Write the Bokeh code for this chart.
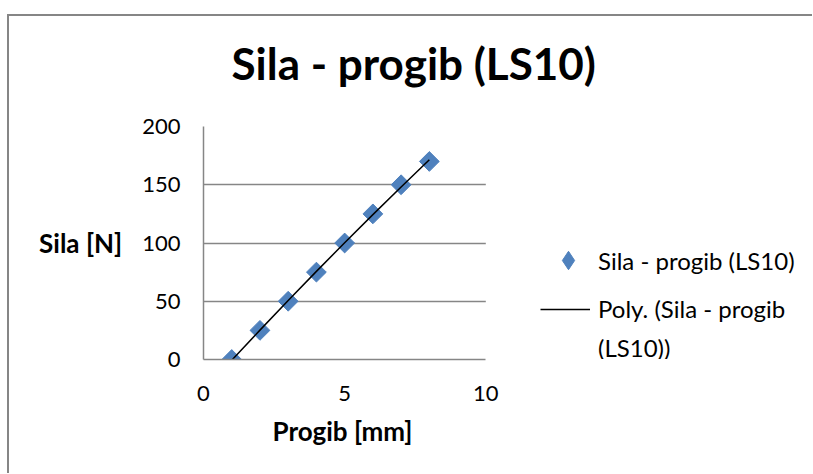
import numpy as np
from bokeh.plotting import figure
from bokeh.models import Range1d, Legend, LegendItem, BoxAnnotation, Title
from bokeh.embed import file_html
from bokeh.resources import INLINE

# ---- data ----
title_text = "Sila - progib (LS10)"
x_label = "Progib [mm]"
y_label = "Sila [N]"
progib = [1, 2, 3, 4, 5, 6, 7, 8]
sila = [0, 25, 50, 75, 100, 125, 150, 170]
x_ticks = [0, 5, 10]
y_ticks = [0, 50, 100, 150, 200]
x_min, x_max = 0, 10
y_min, y_max = 0, 200
series_name = "Sila - progib (LS10)"
trend_name_1 = "Poly. (Sila - progib"
trend_name_2 = "(LS10))"

FONT = "Lato"
GRID = "#868686"
BLUE = "#4F81BD"

W, H = 812, 473
LEFT, TOP, BOTTOM = 203, 126, 114
AXIS_PX = 282.3           # pixel length of the 0..10 x interval
frame_w = W - LEFT
x_end = x_max * frame_w / AXIS_PX   # frame extends right to hold the legend

p = figure(width=W, height=H, output_backend="svg", toolbar_location=None,
           x_range=Range1d(x_min, x_end), y_range=Range1d(y_min, y_max),
           min_border_left=LEFT, min_border_right=0,
           min_border_top=TOP, min_border_bottom=BOTTOM)
p.styles = {
    "background-color": "white",
    "background-image": "linear-gradient(#868686, #868686), linear-gradient(#868686, #868686)",
    "background-size": "100% 2px, 2px 100%",
    "background-position": "7px 14px, 7px 14px",
    "background-repeat": "no-repeat",
}
p.outline_line_color = None
p.background_fill_color = "white"
p.border_fill_alpha = 0

p.title.text = title_text
p.title.text_font = FONT
p.title.text_font_size = "44px"
p.title.text_font_style = "bold"
p.title.text_color = "black"
p.title.align = "left"
p.title.vertical_align = "top"
p.title.offset = 28
p.title.standoff = 71

for ax in (p.xaxis[0], p.yaxis[0]):
    ax.axis_line_color = GRID
    ax.axis_line_width = 1.5
    ax.major_tick_line_color = None
    ax.major_tick_in = 0
    ax.major_tick_out = 0
    ax.minor_tick_line_color = None
    ax.minor_tick_in = 0
    ax.minor_tick_out = 0
    ax.major_label_text_font = FONT
    ax.major_label_text_font_size = "22px"
    ax.major_label_text_color = "black"
    ax.axis_label_text_font = FONT
    ax.axis_label_text_font_size = "26px"
    ax.axis_label_text_font_style = "bold"
    ax.axis_label_text_color = "black"

p.xaxis.ticker = x_ticks
p.xaxis.bounds = (x_min, x_max)
p.xaxis.major_label_standoff = 26

# x-axis title centred under the 0..10 part of the frame
p.add_layout(Title(text=x_label, text_font=FONT, text_font_size="26px",
                   text_font_style="bold", text_color="black", align="left",
                   vertical_align="top", offset=69, standoff=23), "below")

p.yaxis.ticker = y_ticks
p.yaxis.major_label_standoff = 23
p.yaxis.axis_label = y_label
p.yaxis.axis_label_orientation = "horizontal"
p.yaxis.axis_label_standoff = 17

p.xgrid.grid_line_color = None
p.ygrid.ticker = y_ticks
p.ygrid.grid_line_color = GRID
p.ygrid.grid_line_width = 1.5
# blank out the legend side of the frame so grid lines stop at x = 10
p.add_layout(BoxAnnotation(left=x_max, fill_color="white", fill_alpha=1,
                           line_color=None, level="underlay"))

r1 = p.scatter(progib, sila, marker="square", angle=np.pi / 4, size=14,
               fill_color=BLUE, line_color=BLUE)
coef = np.polyfit(progib, sila, 2)
trend = np.polyval(coef, progib)
r2 = p.line(progib, trend, line_color="black", line_width=1.5)

# legend-only renderers (hidden in the plot)
r_key = p.scatter(x=progib[:1], y=sila[:1], marker="diamond",
                  fill_color=BLUE, line_color=BLUE, visible=False)
r_blank = p.line(x=progib[:2], y=sila[:2], line_alpha=0, visible=False)

common = dict(padding=0, margin=0, border_line_color=None, background_fill_alpha=0,
              inactive_fill_alpha=0,
              label_text_font=FONT, label_text_font_size="24px",
              label_text_color="black", glyph_width=50)

legend_a = Legend(items=[LegendItem(label=series_name, renderers=[r_key])],
                  location=(340, 76), glyph_height=46, label_height=26,
                  label_standoff=5, **common)
legend_b = Legend(items=[LegendItem(label=trend_name_1, renderers=[r2]),
                         LegendItem(label=trend_name_2, renderers=[r_blank])],
                  location=(337, -3), glyph_height=26, label_height=26, spacing=10,
                  label_standoff=8, **common)
p.add_layout(legend_a)
p.add_layout(legend_b)

open("out.html", "w").write(file_html(p, INLINE))
